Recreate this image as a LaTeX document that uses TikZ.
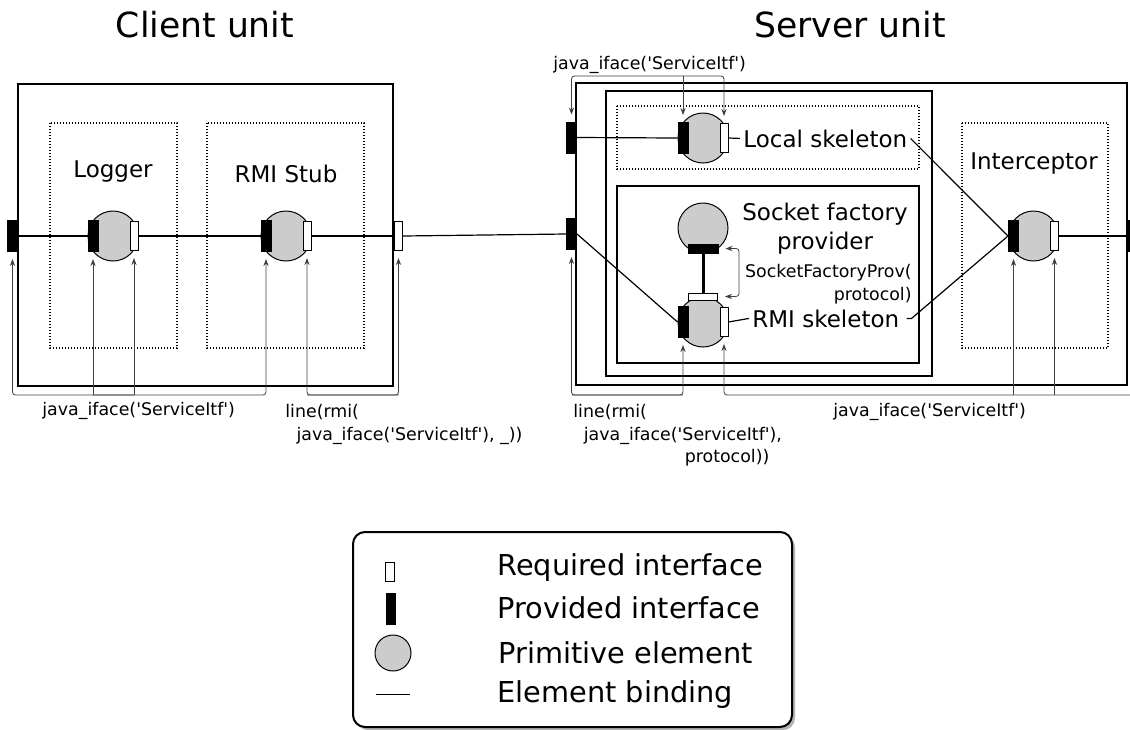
\documentclass[tikz,border=0pt]{standalone}
\usepackage{fontspec}
\setmainfont{DejaVu Sans}[Ligatures=TeXOff]
\usetikzlibrary{arrows.meta}
\tikzstyle{connector} = [line width=0.6pt]
\tikzstyle{unit} = [line width=0.85pt]
\tikzstyle{element} = [line width=0.6pt, dash pattern=on 0.6pt off 0.9pt]
\tikzstyle{prim} = [circle, draw, line width=0.5pt, fill=black!20, minimum size=25pt, inner sep=0]
\tikzstyle{provided} = [rectangle, draw, line width=0.5pt, fill=black, minimum width=5pt, minimum height=15.5pt, inner sep=0]
\tikzstyle{required} = [rectangle, draw, line width=0.5pt, fill=white, minimum width=4pt, minimum height=14.5pt, inner sep=0]
\tikzstyle{ref} = [line width=0.4pt, black!75, rounded corners=1.5pt, shorten >=3.5pt, -{Stealth[length=3.5pt,width=2.6pt]}]
\tikzstyle{title} = [font=\fontsize{17.3}{21}\selectfont, inner sep=0]
\tikzstyle{lbl} = [font=\fontsize{11.5}{14.5}\selectfont, inner sep=1.5pt]
\tikzstyle{small} = [font=\fontsize{8.7}{11.2}\selectfont, inner sep=0]
\tikzstyle{keytext} = [font=\fontsize{14.4}{17}\selectfont, inner sep=0]

\begin{document}
\begin{tikzpicture}[x=0.5pt, y=-0.5pt]
    \clip (0,0) rectangle (1130,729);

    % units and elements
    \draw [unit] (18,84) rectangle (393,386);
    \draw [unit] (576,83) rectangle (1127,385);
    \draw [unit] (606,91) rectangle (932,376);
    \draw [unit] (617,186) rectangle (919,363);
    \draw [element] (50,123) rectangle (177,348);
    \draw [element] (207,123) rectangle (364,348);
    \draw [element] (617,106) rectangle (919,169);
    \draw [element] (962,123) rectangle (1108,348);

    \node (cuT) [title, anchor=base] at (205,37) {Client unit};
    \node (suT) [title, anchor=base] at (850,37) {Server unit};

    % client side
    \node (cliP) [provided] at (12.5,236) {};
    \node (clR) [required] at (398.5,236) {};
    \node (lg) [prim] at (113,236) {};
    \node (lgP) [provided, anchor=west] at (lg.west) {};
    \node (lgR) [required, anchor=east] at (lg.east) {};
    \node (st) [prim] at (286,236) {};
    \node (stP) [provided, anchor=west] at (st.west) {};
    \node (stR) [required, anchor=east] at (st.east) {};
    \node (lgL) [lbl, anchor=base] at (113,177) {Logger};
    \node (stL) [lbl, anchor=base] at (286,182) {RMI Stub};

    % server side
    \node (svP1) [provided] at (571.5,137.5) {};
    \node (svP2) [provided] at (571.5,234) {};
    \node (svP3) [provided] at (1133.5,236) {};
    \node (ls) [prim] at (703,138) {};
    \node (lsP) [provided, anchor=west] at (ls.west) {};
    \node (lsR) [required, anchor=east] at (ls.east) {};
    \node (lsL) [lbl, anchor=base west] at (740,147) {Local skeleton};
    \node (sf) [prim] at (703,228) {};
    \node (sfP) [provided, minimum width=15pt, minimum height=4.5pt, anchor=south] at (sf.south) {};
    \node (sfL) [lbl, align=center] at (825,229) {Socket factory\\provider};
    \node (rs) [prim] at (703,322) {};
    \node (rsP) [provided, anchor=west] at (rs.west) {};
    \node (rsR) [required, anchor=east] at (rs.east) {};
    \node (rsT) [required, minimum width=14.5pt, minimum height=3.5pt] at (rs.north) {};
    \node (rsL) [lbl, anchor=base west] at (749,327) {RMI skeleton};
    \node (spL) [small, align=right, anchor=east] at (912,284) {SocketFactoryProv(\\protocol)};
    \node (ic) [prim] at (1033.5,236) {};
    \node (icP) [provided, anchor=west] at (ic.west) {};
    \node (icR) [required, anchor=east] at (ic.east) {};
    \node (icL) [lbl, anchor=base] at (1034,169) {Interceptor};

    % bindings
    \draw [connector] (cliP.east) -- (lgP.west);
    \draw [connector] (lgR.east) -- (stP.west);
    \draw [connector] (stR.east) -- (clR.west);
    \draw [connector] (clR.east) -- (svP2.west);
    \draw [connector] (svP1.east) -- (lsP.west);
    \draw [connector] (svP2.east) -- (rsP.west);
    \draw [connector] (lsR.east) -- (lsL.west);
    \draw [connector] (rsR.east) -- (rsL.west);
    \draw [connector] (lsL.east) -- (icP.west);
    \draw [connector] (rsL.east) ++(4,0) -- ++(5,0) -- (icP.west);
    \draw [connector] (icR.east) -- (svP3.west);
    \draw [line width=1.5pt] (sfP.south) -- (rsT.north);

    % interface references
    \coordinate (b1) at (0,395);
    \coordinate (t1) at (0,76);
    \coordinate (sfB) at (739,273);
    \draw [ref] (lgR.south |- b1) -| (cliP.south);
    \draw [ref] (lgP.south |- b1) -| (stP.south);
    \draw [ref] (lgP.south |- b1) -- (lgP.south);
    \draw [ref] (lgR.south |- b1) -- (lgR.south);
    \draw [ref] (stR.south |- b1) -| (clR.south);
    \draw [ref] (clR.south |- b1) -| (stR.south);
    \draw [ref] (lsP.north |- t1) -| (svP1.north);
    \draw [ref] (lsP.north |- t1) -| (lsR.north);
    \draw [ref] (lsP.north |- t1) -- (lsP.north);
    \draw [ref] (rsP.south |- b1) -| (svP2.south);
    \draw [ref] (svP2.south |- b1) -| (rsP.south);
    \draw [ref] (icP.south |- b1) -| (rsR.south);
    \draw [ref] (icP.south |- b1) -- (icP.south);
    \draw [ref] (icR.south |- b1) -- (icR.south);
    \draw [ref] (icP.south |- b1) -| (svP3.south);
    \draw [ref] (sfB) |- (sfP.east);
    \draw [ref] (sfB) |- (rsT.east);

    \node (r1) [small, anchor=base west] at (42,415) {java\_iface('ServiceItf')};
    \node (r2) [small, align=left, anchor=north west] at (285,404) {line(rmi(\\\hspace*{0.64em}java\_iface('ServiceItf'), \_))};
    \node (r3) [small, anchor=base west] at (553,69) {java\_iface('ServiceItf')};
    \node (r4) [small, align=left, anchor=north west] at (573,404) {line(rmi(\\\hspace*{0.6em}java\_iface('ServiceItf'),\\\hspace*{6.4em}protocol))};
    \node (r5) [small, anchor=base west] at (833,416) {java\_iface('ServiceItf')};

    % legend
    \fill [black!30, rounded corners=6pt] (356,535) rectangle (795,730);
    \draw [line width=1pt, fill=white, rounded corners=6pt] (353,532) rectangle (792,727);
    \node (kReq) [required, minimum width=4.5pt, minimum height=9.5pt] at (390,572) {};
    \node (kPro) [provided, minimum width=4.5pt, minimum height=15.5pt] at (391,609) {};
    \node (kPrim) [prim, minimum size=18pt] at (393,653) {};
    \coordinate (kB1) at (376,694);
    \coordinate (kB2) at (410,694);
    \draw [line width=0.5pt] (kB1) -- (kB2);
    \node (kReqT) [keytext, anchor=base west] at (497,575) {Required interface};
    \node (kProT) [keytext, anchor=base west] at (497,618) {Provided interface};
    \node (kPrimT) [keytext, anchor=base west] at (498,663) {Primitive element};
    \node (kBT) [keytext, anchor=base west] at (497,702) {Element binding};
\end{tikzpicture}
\end{document}
